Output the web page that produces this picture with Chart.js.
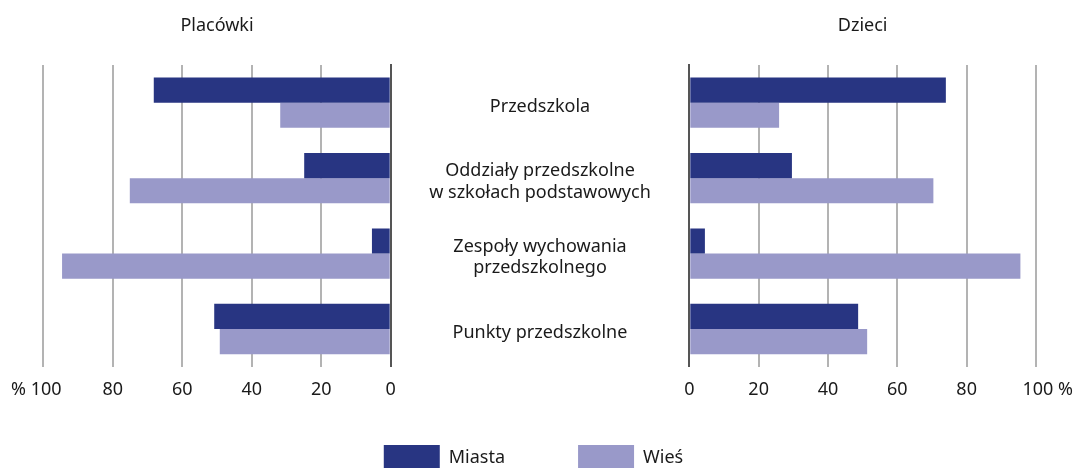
<!DOCTYPE html>
<html>
<head>
<meta charset="utf-8">
<script src="https://cdn.jsdelivr.net/npm/chart.js@4.4.1/dist/chart.umd.min.js"></script>
<style>
  html, body { margin: 0; padding: 0; background: #fff; overflow: hidden; }
  #wrap { position: relative; width: 1078px; height: 468px; overflow: hidden; }
  #wrap canvas { position: absolute; left: 0; top: 0; }
</style>
</head>
<body>
<div id="wrap">
  <canvas id="leftChart" width="1078" height="481"></canvas>
  <canvas id="rightChart" width="1078" height="481"></canvas>
  <canvas id="legendChart" width="1078" height="481"></canvas>
</div>
<script>
// data (shares in %)
const categories = [
  'Przedszkola',
  ['Oddziały przedszkolne', 'w szkołach podstawowych'],
  ['Zespoły wychowania', 'przedszkolnego'],
  'Punkty przedszkolne'
];
const seriesNames = ['Miasta', 'Wieś'];
const placowkiMiasta = [68.2, 24.9, 5.4, 50.8];
const placowkiWies = [31.8, 75.1, 94.6, 49.2];
const dzieciMiasta = [74.0, 29.6, 4.5, 48.7];
const dzieciWies = [25.9, 70.4, 95.5, 51.3];
const xTicks = [0, 20, 40, 60, 80, 100];
// the end labels carry the % sign; spaces keep the number itself on the gridline
const leftEndLabel = '% 100   ';
const rightEndLabel = '     100 %';

const navy = '#283582';
const lilac = '#9999c9';
const gridColor = '#b3b3b3';
const zeroColor = '#555555';
const textColor = '#1a1a1a';
const font = { family: '"Noto Sans", sans-serif', size: 18, weight: 'normal' };

const setTicks = scale => { scale.ticks = xTicks.map(v => ({ value: v })); };

// width of the widest category line, so the labels sit centred in the gap
const mctx = document.createElement('canvas').getContext('2d');
mctx.font = '18px "Noto Sans", sans-serif';
const widest = Math.max(...categories.flat().map(t => mctx.measureText(t).width));
const labelPad = 689.3 - 540 - widest / 2;

const makeDatasets = (a, b) => [
  { label: seriesNames[0], data: a, backgroundColor: navy, borderWidth: 0 },
  { label: seriesNames[1], data: b, backgroundColor: lilac, borderWidth: 0 }
];

const barOpts = { categoryPercentage: 0.667, barPercentage: 1 };

const xAxis = (reverse, lastLabel) => ({
  reverse: reverse, min: 0, max: 100,
  afterBuildTicks: setTicks,
  // fixed height; end labels may hang over the edge without shrinking the plot
  afterFit: s => { s.height = 40; s.paddingLeft = 0; s.paddingRight = 0; },
  grid: { color: gridColor, lineWidth: 2, drawTicks: false },
  border: { display: false },
  ticks: { padding: 12, font: font, color: textColor,
    maxRotation: 0, minRotation: 0, autoSkip: false,
    callback: v => v === 100 ? lastLabel : v }
});

const titleOpts = text => ({ display: true, text: text, fullSize: false, font: font,
  color: textColor, padding: { top: 0, bottom: 28.4 } });

// Placówki, running right to left
new Chart(document.getElementById('leftChart'), {
  type: 'bar',
  data: { labels: categories, datasets: makeDatasets(placowkiMiasta, placowkiWies) },
  options: {
    indexAxis: 'y',
    responsive: false,
    animation: false,
    datasets: { bar: barOpts },
    layout: { padding: { top: 15, left: 0, right: 0, bottom: 74.3 } },
    scales: {
      x: xAxis(true, leftEndLabel),
      y: {
        position: 'left',
        afterFit: s => { s.width = 43.3; },
        grid: { display: false, drawTicks: false },
        ticks: { display: false },
        border: { display: false }
      },
      y2: {
        type: 'category', labels: categories, position: 'right',
        afterFit: s => { s.width = 687.3; },
        grid: { display: false, drawTicks: false },
        ticks: { display: false },
        border: { display: true, color: zeroColor, width: 2 }
      }
    },
    plugins: {
      title: titleOpts('Placówki'),
      legend: { display: false },
      tooltip: { enabled: false }
    }
  }
});

// Dzieci, with the category names in the gap on its left
new Chart(document.getElementById('rightChart'), {
  type: 'bar',
  data: { labels: categories, datasets: makeDatasets(dzieciMiasta, dzieciWies) },
  options: {
    indexAxis: 'y',
    responsive: false,
    animation: false,
    datasets: { bar: barOpts },
    layout: { padding: { top: 15, left: 0, right: 42, bottom: 74.3 } },
    scales: {
      x: xAxis(false, rightEndLabel),
      y: {
        position: 'left',
        afterFit: s => { s.width = 689.3; },
        grid: { display: false, drawTicks: false },
        border: { display: true, color: zeroColor, width: 2 },
        ticks: { crossAlign: 'center', padding: labelPad, labelOffset: 4,
          font: font, color: textColor }
      }
    },
    plugins: {
      title: titleOpts('Dzieci'),
      legend: { display: false },
      tooltip: { enabled: false }
    }
  }
});

// shared legend across the full width
new Chart(document.getElementById('legendChart'), {
  type: 'bar',
  data: { labels: categories, datasets: makeDatasets([], []) },
  options: {
    responsive: false,
    animation: false,
    layout: { padding: { right: 11 } },
    scales: { x: { display: false }, y: { display: false } },
    plugins: {
      legend: { position: 'bottom',
        labels: { boxWidth: 56, boxHeight: 26, padding: 73, font: font, color: textColor } },
      tooltip: { enabled: false }
    }
  }
});
</script>
</body>
</html>
